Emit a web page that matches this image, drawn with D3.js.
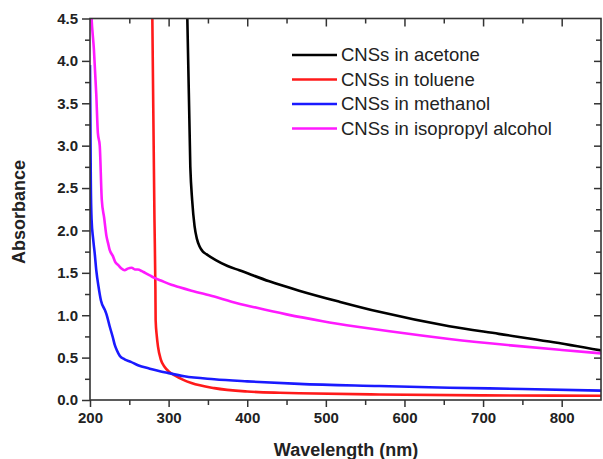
<!DOCTYPE html>
<html>
<head>
<meta charset="utf-8">
<script src="https://cdn.jsdelivr.net/npm/d3@7"></script>
<style>
  body { margin: 0; background: #fff; }
  text { font-family: Arial, "Liberation Sans", sans-serif; }
</style>
</head>
<body>
<div id="chart"></div>
<script>
// data (wavelength nm / absorbance)
const acetoneX = [322, 323.8, 327.6, 330, 333, 336, 339.4, 343.6, 348, 360, 375, 390, 428, 466, 517, 568, 657, 720, 784, 850];
const acetoneY = [4.8, 4.5, 2.75, 2.35, 2.05, 1.9, 1.81, 1.75, 1.72, 1.65, 1.58, 1.53, 1.40, 1.29, 1.16, 1.04, 0.87, 0.78, 0.69, 0.585];

const tolueneX = [279, 279.3, 281, 282, 283.2, 283.5, 285, 286.5, 290, 295, 301, 307.7, 318, 329, 358, 400, 441, 466, 568, 700, 850];
const tolueneY = [4.8, 4.5, 3.0, 2.13, 1.3, 0.94, 0.75, 0.63, 0.48, 0.39, 0.33, 0.29, 0.24, 0.20, 0.14, 0.10, 0.085, 0.08, 0.065, 0.055, 0.05];

const methanolX = [200, 200.5, 201, 202, 204, 206, 208, 210.8, 214, 219, 221, 225, 229, 231.5, 234, 238, 244, 252, 261, 276, 299, 320, 358, 400, 466, 568, 657, 750, 850];
const methanolY = [3.95, 3.3, 2.6, 2.13, 1.9, 1.73, 1.53, 1.34, 1.17, 1.06, 1.01, 0.87, 0.74, 0.65, 0.59, 0.52, 0.48, 0.45, 0.41, 0.37, 0.32, 0.28, 0.245, 0.22, 0.19, 0.165, 0.145, 0.13, 0.11];

const isopropylX = [201, 202, 205, 208, 210, 212.4, 215, 218, 221, 223, 225, 229, 232, 236, 240, 244, 248, 253, 257, 261, 266, 270, 276, 282, 290, 303.5, 314, 329, 358, 380, 411, 450, 496, 540, 581, 657, 746, 800, 850];
const isopropylY = [4.7, 4.5, 4.13, 3.6, 3.15, 3.0, 2.36, 2.15, 1.93, 1.85, 1.77, 1.7, 1.63, 1.59, 1.55, 1.53, 1.55, 1.56, 1.54, 1.54, 1.52, 1.50, 1.47, 1.44, 1.41, 1.36, 1.33, 1.29, 1.22, 1.16, 1.09, 1.01, 0.93, 0.865, 0.81, 0.72, 0.635, 0.59, 0.55];

const seriesNames = ["CNSs in acetone", "CNSs in toluene", "CNSs in methanol", "CNSs in isopropyl alcohol"];
const seriesColors = ["#000000", "#ff1a1a", "#1a1aff", "#ff1aff"];
const xTicks = [200, 300, 400, 500, 600, 700, 800];
const yTicks = [0, 0.5, 1, 1.5, 2, 2.5, 3, 3.5, 4, 4.5];

const series = [
  {x: acetoneX, y: acetoneY},
  {x: tolueneX, y: tolueneY},
  {x: methanolX, y: methanolY},
  {x: isopropylX, y: isopropylY}
];

const W = 603, H = 459;
const mLeft = 90, mRight = 601, mTop = 18.5, mBottom = 400;

const svg = d3.select("#chart").append("svg")
  .attr("width", W)
  .attr("height", H);

const x = d3.scaleLinear().domain([200, 850]).range([mLeft, mRight]);
const y = d3.scaleLinear().domain([0, 4.5]).range([mBottom, mTop]);

svg.append("clipPath").attr("id", "clip")
  .append("rect")
  .attr("x", mLeft).attr("y", mTop)
  .attr("width", mRight - mLeft).attr("height", mBottom - mTop);

const line = d3.line()
  .x(d => x(d[0]))
  .y(d => y(d[1]))
  .curve(d3.curveMonotoneX);

// curves
svg.append("g")
  .attr("clip-path", "url(#clip)")
  .selectAll("path")
  .data(series)
  .enter()
  .append("path")
  .attr("d", d => line(d.x.map((v, i) => [v, d.y[i]])))
  .attr("fill", "none")
  .attr("stroke", (d, i) => seriesColors[i])
  .attr("stroke-width", 2.6)
  .attr("stroke-linejoin", "round");

// axes
const minorX = d3.range(250, 850, 100);
const minorY = d3.range(0.25, 4.5, 0.5);

function styleAxis(g) {
  g.select(".domain").remove();
  g.selectAll("line").attr("stroke", "#333").attr("stroke-width", 1.5);
  g.selectAll("text")
    .attr("fill", "#222")
    .style("font-size", "15px")
    .style("font-weight", "bold");
}

svg.append("g")
  .attr("transform", `translate(0,${mBottom})`)
  .call(d3.axisBottom(x).tickValues(xTicks).tickSize(7).tickPadding(5).tickFormat(d3.format("d")))
  .call(styleAxis);
svg.append("g")
  .attr("transform", `translate(0,${mBottom})`)
  .call(d3.axisBottom(x).tickValues(minorX).tickSize(5).tickFormat(""))
  .call(styleAxis);

svg.append("g")
  .attr("transform", `translate(${mLeft},0)`)
  .call(d3.axisLeft(y).tickValues(yTicks).tickSize(8).tickPadding(4).tickFormat(d3.format(".1f")))
  .call(styleAxis);
svg.append("g")
  .attr("transform", `translate(${mLeft},0)`)
  .call(d3.axisLeft(y).tickValues(minorY).tickSize(5).tickFormat(""))
  .call(styleAxis);

// top & right mirror ticks (inward)
svg.append("g")
  .attr("transform", `translate(0,${mTop})`)
  .call(d3.axisBottom(x).tickValues(xTicks.filter(v => v > 200)).tickSize(8).tickFormat(""))
  .call(styleAxis);
svg.append("g")
  .attr("transform", `translate(0,${mTop})`)
  .call(d3.axisBottom(x).tickValues(minorX).tickSize(5).tickFormat(""))
  .call(styleAxis);
svg.append("g")
  .attr("transform", `translate(${mRight},0)`)
  .call(d3.axisLeft(y).tickValues(yTicks.filter(v => v > 0 && v < 4.5)).tickSize(7).tickFormat(""))
  .call(styleAxis);
svg.append("g")
  .attr("transform", `translate(${mRight},0)`)
  .call(d3.axisLeft(y).tickValues(minorY).tickSize(5).tickFormat(""))
  .call(styleAxis);

// frame
svg.append("rect")
  .attr("x", mLeft).attr("y", mTop)
  .attr("width", mRight - mLeft).attr("height", mBottom - mTop)
  .attr("fill", "none")
  .attr("stroke", "#333")
  .attr("stroke-width", 1.6);

// axis titles
svg.append("text")
  .attr("x", 346).attr("y", 456)
  .attr("text-anchor", "middle")
  .style("font-size", "18px")
  .style("font-weight", "bold")
  .attr("fill", "#222")
  .text("Wavelength (nm)");

svg.append("text")
  .attr("transform", "translate(25,212) rotate(-90)")
  .attr("text-anchor", "middle")
  .style("font-size", "18px")
  .style("font-weight", "bold")
  .attr("fill", "#222")
  .text("Absorbance");

// legend
const legend = svg.append("g");
seriesNames.forEach((name, i) => {
  const ly = 55 + i * 24.5;
  legend.append("line")
    .attr("x1", 292).attr("x2", 337)
    .attr("y1", ly).attr("y2", ly)
    .attr("stroke", seriesColors[i])
    .attr("stroke-width", 2.6);
  legend.append("text")
    .attr("x", 341).attr("y", ly)
    .attr("dy", "0.35em")
    .style("font-size", "18.5px")
    .attr("fill", "#222")
    .text(name);
});
</script>
</body>
</html>
